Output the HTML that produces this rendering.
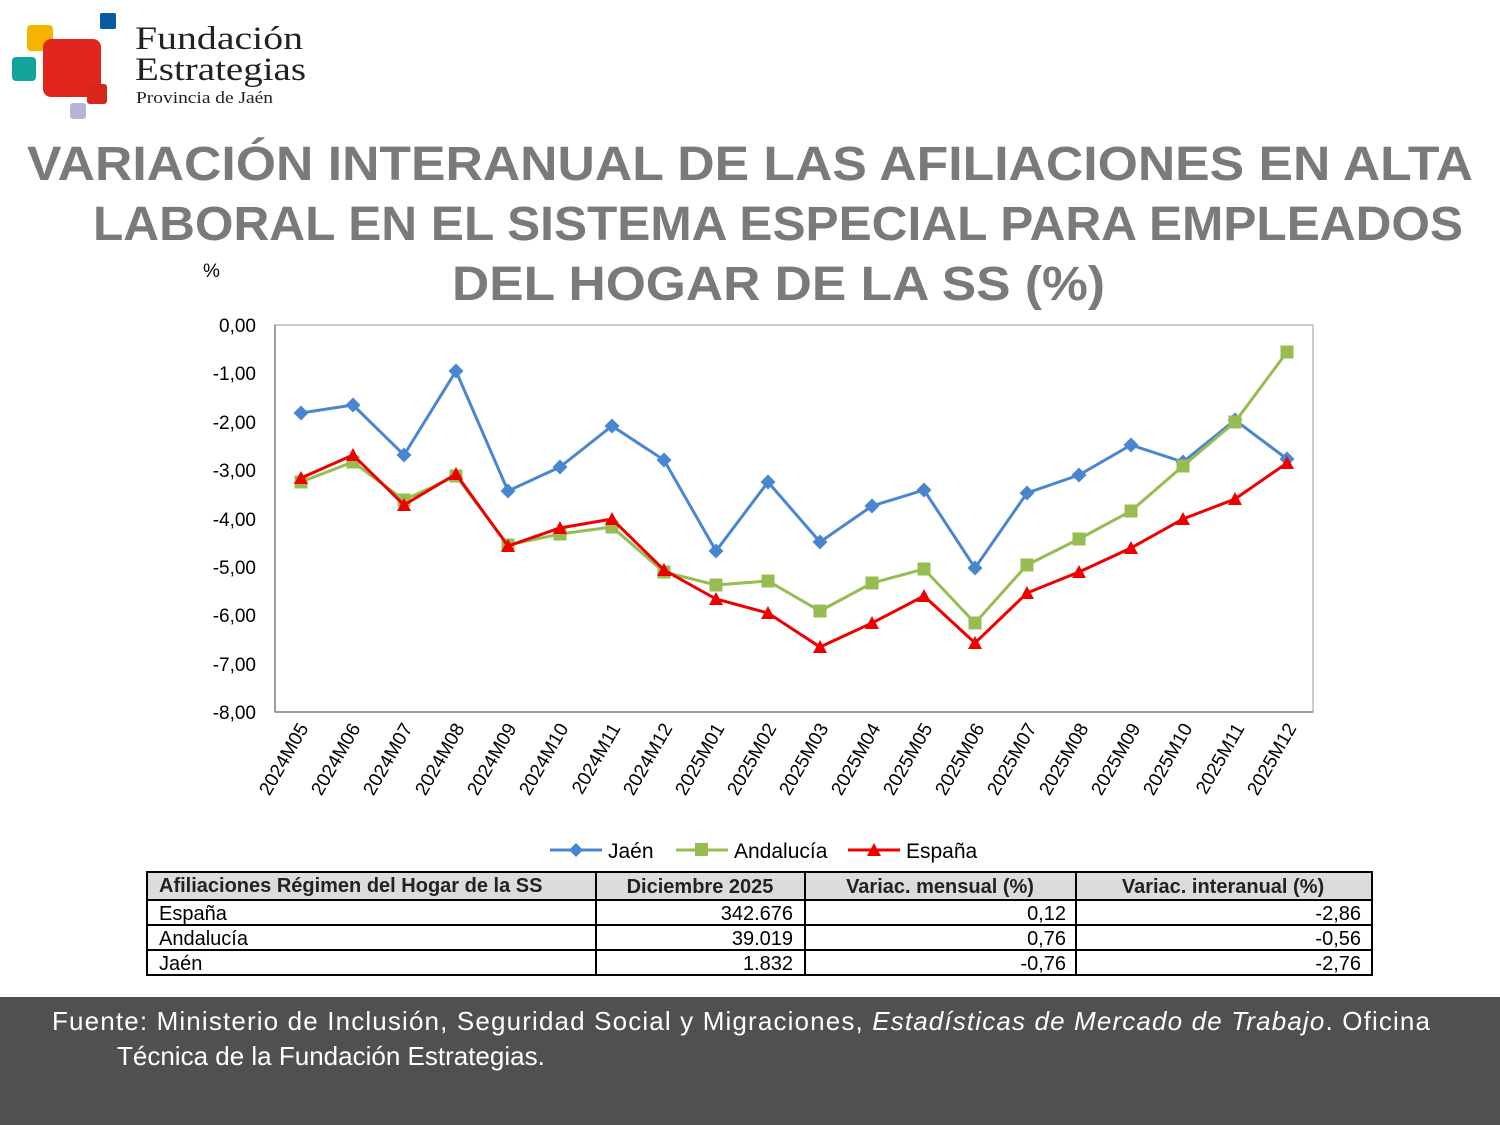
<!DOCTYPE html>
<html><head><meta charset="utf-8"><style>
body{margin:0;background:#fff;}
svg{display:block;font-family:"Liberation Sans","DejaVu Sans",sans-serif;}
</style></head><body>
<svg width="1500" height="1125" viewBox="0 0 1500 1125">
<!-- logo -->
<rect x="27" y="25" width="26" height="26" rx="4" fill="#f6b400"/>
<rect x="100" y="13" width="16" height="16" rx="2" fill="#0a5aa6"/>
<rect x="12" y="57" width="24" height="24" rx="4" fill="#14a39a"/>
<rect x="43" y="39" width="58" height="58" rx="8" fill="#e0261f"/>
<rect x="87" y="84" width="20" height="20" rx="3" fill="#d9261c"/>
<rect x="70" y="103" width="16" height="16" rx="3" fill="#b8b4d8"/>
<text x="135" y="49" font-family="Liberation Serif,serif" font-size="33" fill="#222" textLength="168" lengthAdjust="spacingAndGlyphs">Fundación</text>
<text x="135" y="80" font-family="Liberation Serif,serif" font-size="33" fill="#222" textLength="171" lengthAdjust="spacingAndGlyphs">Estrategias</text>
<text x="136" y="103" font-family="Liberation Serif,serif" font-size="17" fill="#222" textLength="137" lengthAdjust="spacingAndGlyphs">Provincia de Jaén</text>
<!-- title -->
<g font-weight="bold" font-size="48" fill="#7a7a7a">
<text x="27" y="180" textLength="1446" lengthAdjust="spacingAndGlyphs">VARIACIÓN INTERANUAL DE LAS AFILIACIONES EN ALTA</text>
<text x="93" y="240" textLength="1370" lengthAdjust="spacingAndGlyphs">LABORAL EN EL SISTEMA ESPECIAL PARA EMPLEADOS</text>
<text x="452" y="300" textLength="653" lengthAdjust="spacingAndGlyphs">DEL HOGAR DE LA SS (%)</text>
</g>
<text x="203" y="277" font-size="19" fill="#000">%</text>
<!-- plot -->
<rect x="275" y="325" width="1038" height="387" fill="#fff" stroke="#bbb" stroke-width="1.5"/>
<g stroke="#888" stroke-width="1.5">
<line x1="275" y1="325" x2="275" y2="712"/><line x1="275" y1="712" x2="1313" y2="712"/>
</g>
<g font-size="19" fill="#000" text-anchor="end">
<text x="256" y="332">0,00</text><text x="256" y="380">-1,00</text><text x="256" y="429">-2,00</text><text x="256" y="477">-3,00</text><text x="256" y="526">-4,00</text><text x="256" y="574">-5,00</text><text x="256" y="622">-6,00</text><text x="256" y="671">-7,00</text><text x="256" y="719">-8,00</text>
</g>
<g font-size="19" fill="#000" text-anchor="end">
<text transform="translate(309,728) rotate(-60)">2024M05</text>
<text transform="translate(361,728) rotate(-60)">2024M06</text>
<text transform="translate(413,728) rotate(-60)">2024M07</text>
<text transform="translate(465,728) rotate(-60)">2024M08</text>
<text transform="translate(517,728) rotate(-60)">2024M09</text>
<text transform="translate(569,728) rotate(-60)">2024M10</text>
<text transform="translate(621,728) rotate(-60)">2024M11</text>
<text transform="translate(673,728) rotate(-60)">2024M12</text>
<text transform="translate(725,728) rotate(-60)">2025M01</text>
<text transform="translate(777,728) rotate(-60)">2025M02</text>
<text transform="translate(829,728) rotate(-60)">2025M03</text>
<text transform="translate(881,728) rotate(-60)">2025M04</text>
<text transform="translate(933,728) rotate(-60)">2025M05</text>
<text transform="translate(985,728) rotate(-60)">2025M06</text>
<text transform="translate(1037,728) rotate(-60)">2025M07</text>
<text transform="translate(1089,728) rotate(-60)">2025M08</text>
<text transform="translate(1141,728) rotate(-60)">2025M09</text>
<text transform="translate(1193,728) rotate(-60)">2025M10</text>
<text transform="translate(1245,728) rotate(-60)">2025M11</text>
<text transform="translate(1297,728) rotate(-60)">2025M12</text>
</g>
<defs>
<marker id="d" viewBox="-8 -8 16 16" markerWidth="16" markerHeight="16" markerUnits="userSpaceOnUse"><path d="M0,-7.5L7.5,0L0,7.5L-7.5,0Z" fill="#4a86d0"/></marker>
<marker id="s" viewBox="-7 -7 14 14" markerWidth="14" markerHeight="14" markerUnits="userSpaceOnUse"><rect x="-6.5" y="-6.5" width="13" height="13" fill="#96bc52"/></marker>
<marker id="t" viewBox="-8 -8 16 16" markerWidth="16" markerHeight="16" markerUnits="userSpaceOnUse"><path d="M0,-7L7,6L-7,6Z" fill="#ee0000"/></marker>
</defs>
<polyline fill="none" stroke="#4a86d0" stroke-width="3" marker-start="url(#d)" marker-mid="url(#d)" marker-end="url(#d)" points="301,413 353,405 404,455 456,371 508,491 560,467 612,426 664,460 716,551 768,482 820,542 872,506 924,490 975,568 1027,493 1079,475 1131,445 1183,462 1235,420 1287,459"/>
<polyline fill="none" stroke="#96bc52" stroke-width="3" marker-start="url(#s)" marker-mid="url(#s)" marker-end="url(#s)" points="301,482 353,462 404,500 456,476 508,545 560,534 612,527 664,572 716,585 768,581 820,611 872,583 924,569 975,623 1027,565 1079,539 1131,511 1183,466 1235,422 1287,352"/>
<polyline fill="none" stroke="#ee0000" stroke-width="3" marker-start="url(#t)" marker-mid="url(#t)" marker-end="url(#t)" points="301,478 353,455 404,505 456,474 508,546 560,528 612,519 664,570 716,599 768,613 820,647 872,623 924,596 975,643 1027,593 1079,572 1131,548 1183,519 1235,499 1287,463"/>
<!-- legend -->
<line x1="550" y1="850" x2="602" y2="850" stroke="#4a86d0" stroke-width="3"/><path d="M576,843L583,850L576,857L569,850Z" fill="#4a86d0"/>
<text x="608" y="858" font-size="21">Jaén</text>
<line x1="676" y1="850" x2="728" y2="850" stroke="#96bc52" stroke-width="3"/><rect x="695" y="843" width="13" height="13" fill="#96bc52"/>
<text x="734" y="858" font-size="21">Andalucía</text>
<line x1="848" y1="850" x2="900" y2="850" stroke="#ee0000" stroke-width="3"/><path d="M874,843L881,856L867,856Z" fill="#ee0000"/>
<text x="906" y="858" font-size="21">España</text>
<!-- table -->
<rect x="147" y="872" width="1225" height="28" fill="#dcdcdc"/>
<g stroke="#000" stroke-width="2" fill="none">
<rect x="147" y="872" width="1225" height="103"/>
<line x1="147" y1="900" x2="1372" y2="900"/><line x1="147" y1="925" x2="1372" y2="925"/><line x1="147" y1="950" x2="1372" y2="950"/>
<line x1="596" y1="872" x2="596" y2="975"/><line x1="805" y1="872" x2="805" y2="975"/><line x1="1076" y1="872" x2="1076" y2="975"/>
</g>
<g font-size="20" font-weight="bold" fill="#222">
<text x="159" y="892">Afiliaciones Régimen del Hogar de la SS</text>
<text x="700" y="893" text-anchor="middle">Diciembre 2025</text>
<text x="940" y="893" text-anchor="middle">Variac. mensual (%)</text>
<text x="1223" y="893" text-anchor="middle">Variac. interanual (%)</text>
</g>
<g font-size="20" fill="#000">
<text x="159" y="920">España</text><text x="159" y="945">Andalucía</text><text x="159" y="970">Jaén</text>
<g text-anchor="end">
<text x="793" y="920">342.676</text><text x="793" y="945">39.019</text><text x="793" y="970">1.832</text>
<text x="1066" y="920">0,12</text><text x="1066" y="945">0,76</text><text x="1066" y="970">-0,76</text>
<text x="1361" y="920">-2,86</text><text x="1361" y="945">-0,56</text><text x="1361" y="970">-2,76</text>
</g></g>
<!-- footer -->
<rect x="0" y="997" width="1500" height="128" fill="#505050"/>
<text x="52" y="1030" font-size="26" fill="#fff" textLength="1378" lengthAdjust="spacing">Fuente: Ministerio de Inclusión, Seguridad Social y Migraciones, <tspan font-style="italic">Estadísticas de Mercado de Trabajo</tspan>. Oficina</text>
<text x="117" y="1065" font-size="26" fill="#fff">Técnica de la Fundación Estrategias.</text>
</svg>
</body></html>
